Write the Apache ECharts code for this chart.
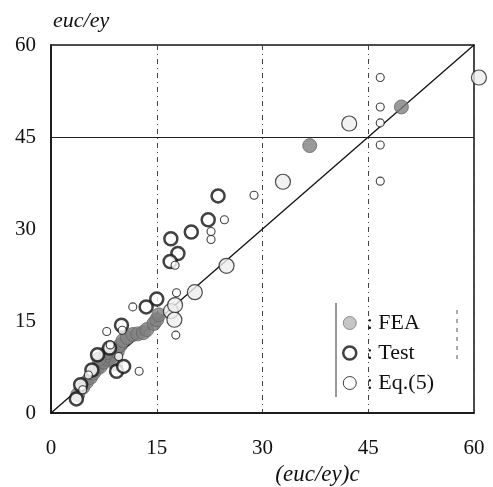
<!DOCTYPE html>
<html>
<head>
<meta charset="utf-8">
<script src="https://cdn.jsdelivr.net/npm/echarts@6/dist/echarts.min.js"></script>
<style>
  html, body { margin: 0; padding: 0; background: #fff; }
  #chart { width: 493px; height: 487px; }
</style>
</head>
<body>
<div id="chart"></div>
<script>
// tick labels
let ticks = [0, 15, 30, 45, 60];

// reference line y = x
let refLine = [[0, 0], [60, 60]];

// FEA results (dark filled)
let feaDark = [
  [3.8, 3.0], [4.5, 4.2], [5.0, 5.0], [5.6, 5.8], [6.0, 6.5], [6.5, 7.2],
  [7.0, 7.6], [7.5, 8.3], [8.0, 8.8], [8.5, 9.2], [9.0, 9.6], [8.8, 10.4],
  [9.4, 10.0], [9.8, 11.0], [10.2, 11.8], [10.8, 12.3], [11.6, 12.8], [12.3, 12.9],
  [13.1, 13.1], [13.6, 13.6], [14.6, 14.6], [15.0, 15.2], [15.3, 16.0], [9.2, 8.0],
  [7.8, 9.8], [6.8, 8.8], [36.7, 43.6], [49.7, 49.9]
];

// FEA results (light filled)
let feaLight = [
  [17.0, 16.6], [17.6, 17.6], [17.5, 15.2], [24.9, 24.0], [32.9, 37.7],
  [60.7, 54.7], [20.4, 19.7], [42.3, 47.2]
];

// test results
let testData = [
  [23.7, 35.4], [22.3, 31.5], [19.9, 29.5], [17.0, 28.4], [18.0, 26.0], [16.9, 24.7],
  [15.0, 18.6], [13.5, 17.3], [10.0, 14.3], [8.3, 10.6], [6.6, 9.5], [9.3, 6.8],
  [5.8, 7.0], [3.6, 2.3], [4.2, 4.6], [10.3, 7.6]
];

// Eq.(5)
let eqData = [
  [46.7, 54.7], [46.7, 49.9], [46.7, 47.3], [46.7, 43.7], [46.7, 37.8], [28.8, 35.5],
  [24.6, 31.5], [22.7, 29.6], [22.7, 28.3], [17.6, 24.1], [11.6, 17.3], [17.7, 12.7],
  [17.8, 19.6], [7.9, 13.3], [10.1, 13.5], [12.5, 6.8], [8.4, 11.1], [5.3, 6.2],
  [4.5, 3.8], [9.6, 9.2]
];

let myChart = echarts.init(document.getElementById('chart'));
let serif = '"Liberation Serif", "DejaVu Serif", serif';

let option = {
  backgroundColor: '#fff',
  animation: false,
  grid: {
    left: 51,
    right: 19,
    top: 45,
    bottom: 74,
    outerBoundsMode: 'none',
    show: true,
    borderColor: '#111',
    borderWidth: 1.5
  },
  legend: {
    orient: 'vertical',
    left: 337,
    top: 307,
    itemWidth: 13,
    itemHeight: 13,
    itemGap: 8,
    formatter: function (name) {
      return ' : ' + name;
    },
    textStyle: {
      fontFamily: serif,
      fontSize: 22,
      lineHeight: 21,
      color: '#111'
    },
    data: [
      {name: 'FEA', icon: 'circle', itemStyle: {color: '#b8b8b8', borderColor: '#777', borderWidth: 1}},
      {name: 'Test', icon: 'circle', itemStyle: {color: '#fff', borderColor: '#111', borderWidth: 2.5}},
      {name: 'Eq.(5)', icon: 'circle', itemStyle: {color: '#fff', borderColor: '#111', borderWidth: 1}}
    ]
  },
  graphic: [{
    type: 'line',
    shape: {x1: 336, y1: 303, x2: 336, y2: 397},
    style: {stroke: '#333', lineWidth: 1}
  }, {
    type: 'line',
    shape: {x1: 457, y1: 310, x2: 457, y2: 360},
    style: {stroke: '#555', lineWidth: 1, lineDash: [4, 5]}
  }],
  xAxis: {
    type: 'value',
    min: 0,
    max: 60,
    interval: 15,
    name: '(euc/ey)c',
    nameLocation: 'middle',
    nameGap: 45,
    nameTextStyle: {
      fontFamily: serif,
      fontStyle: 'italic',
      fontSize: 23,
      color: '#111',
      padding: [0, 0, 0, 110]
    },
    axisLine: {lineStyle: {color: '#111', width: 1.5}},
    axisTick: {show: false},
    axisLabel: {
      margin: 25,
      fontFamily: serif,
      fontSize: 21,
      color: '#111',
      formatter: function (v) {
        return ticks.indexOf(v) >= 0 ? String(v) : '';
      }
    },
    splitLine: {
      show: true,
      lineStyle: {color: '#444', width: 1, type: [5, 4, 1, 4]}
    }
  },
  yAxis: {
    type: 'value',
    min: 0,
    max: 60,
    interval: 15,
    name: 'euc/ey',
    nameLocation: 'end',
    nameGap: 13,
    nameTextStyle: {
      fontFamily: serif,
      fontStyle: 'italic',
      fontSize: 22,
      color: '#111',
      align: 'left',
      padding: [0, 0, 0, 2]
    },
    axisLine: {lineStyle: {color: '#111', width: 1.5}},
    axisTick: {show: false},
    axisLabel: {
      margin: 15,
      fontFamily: serif,
      fontSize: 21,
      color: '#111'
    },
    splitLine: {show: false}
  },
  series: [{
    name: 'ref',
    type: 'line',
    data: refLine,
    showSymbol: false,
    silent: true,
    lineStyle: {color: '#111', width: 1.3},
    markLine: {
      silent: true,
      symbol: 'none',
      label: {show: false},
      lineStyle: {color: '#222', width: 1, type: 'solid'},
      data: [{yAxis: 45}]
    },
    z: 1
  }, {
    name: 'FEA',
    type: 'scatter',
    clip: false,
    data: feaDark,
    symbolSize: 14,
    itemStyle: {color: '#7f7f7f', borderColor: '#666', borderWidth: 1},
    z: 2
  }, {
    name: 'FEA',
    type: 'scatter',
    clip: false,
    data: feaLight,
    symbolSize: 15,
    itemStyle: {color: '#ededed', borderColor: '#222', borderWidth: 1.2},
    z: 2
  }, {
    name: 'Test',
    type: 'scatter',
    clip: false,
    data: testData,
    symbolSize: 13,
    itemStyle: {color: '#fff', borderColor: '#111', borderWidth: 2.5},
    z: 3
  }, {
    name: 'Eq.(5)',
    type: 'scatter',
    clip: false,
    data: eqData,
    symbolSize: 8,
    itemStyle: {color: '#fff', borderColor: '#111', borderWidth: 1.1},
    z: 4
  }]
};

myChart.setOption(option);
</script>
</body>
</html>
